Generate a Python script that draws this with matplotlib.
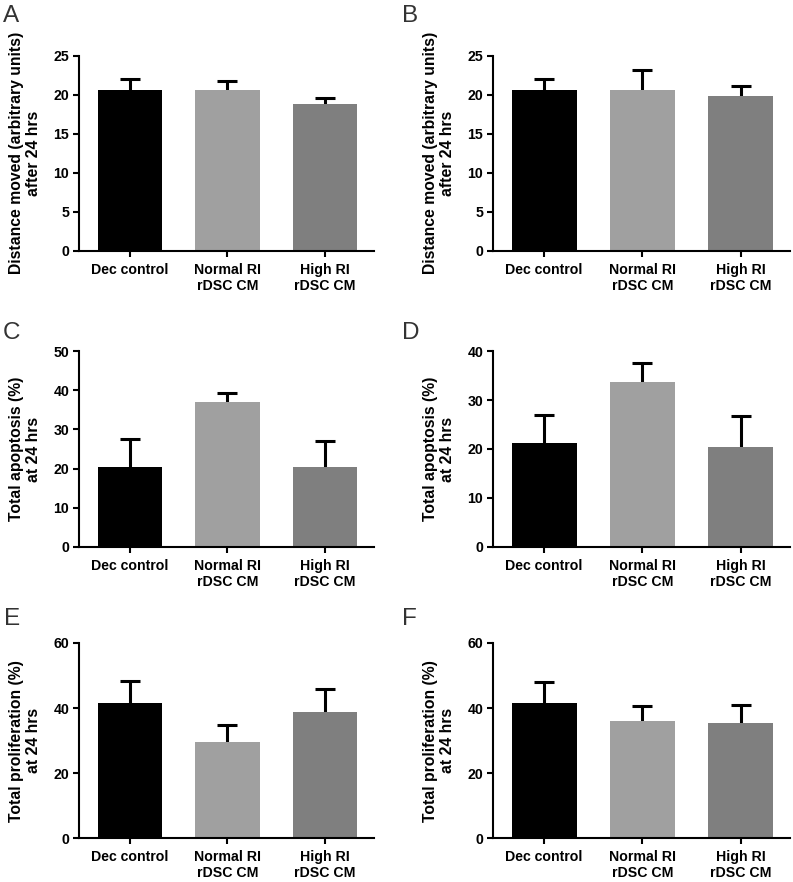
import matplotlib

matplotlib.use("Agg")

import matplotlib.pyplot as plt  # noqa: E402
import numpy as np  # noqa: E402

# --- data ---
GROUPS = ["Dec control", "Normal RI\nrDSC CM", "High RI\nrDSC CM"]
BAR_COLORS = ["#000000", "#a0a0a0", "#7f7f7f"]

A_MEAN = [20.6, 20.55, 18.8]
A_SEM = [1.45, 1.2, 0.8]
B_MEAN = [20.6, 20.6, 19.8]
B_SEM = [1.4, 2.6, 1.35]
C_MEAN = [20.5, 36.95, 20.3]
C_SEM = [7.1, 2.3, 6.65]
D_MEAN = [21.2, 33.8, 20.4]
D_SEM = [5.75, 3.9, 6.4]
E_MEAN = [41.7, 29.5, 38.8]
E_SEM = [6.6, 5.2, 7.1]
F_MEAN = [41.7, 36.1, 35.4]
F_SEM = [6.4, 4.5, 5.7]

YLABEL_DIST = "Distance moved (arbitrary units)\nafter 24 hrs"
YLABEL_APOP = "Total apoptosis (%)\nat 24 hrs"
YLABEL_PROL = "Total proliferation (%)\nat 24 hrs"

plt.rcParams.update(
    {
        "font.family": "sans-serif",
        "font.sans-serif": ["Liberation Sans", "Arial", "DejaVu Sans"],
        "font.size": 10.2,
        "font.weight": "bold",
    }
)

W, H = 793, 882
fig = plt.figure(figsize=(W / 100, H / 100), dpi=100)


def add_panel(left, right, top, bottom):
    return fig.add_axes([left / W, 1 - bottom / H, (right - left) / W, (bottom - top) / H])


def draw(ax, means, sems, ymax, step, ylabel):
    x = np.arange(len(GROUPS))
    ax.bar(x, means, 0.66, color=BAR_COLORS, edgecolor="none", zorder=2)
    _, caps, _ = ax.errorbar(
        x,
        means,
        yerr=[np.zeros(len(sems)), sems],
        fmt="none",
        ecolor="black",
        elinewidth=2.2,
        capsize=7,
        capthick=2.2,
        zorder=1,
    )
    caps[0].set_visible(False)  # only the upper cap
    ax.set_xlim(-0.52, 2.5)
    ax.set_ylim(0, ymax)
    ax.set_yticks(np.arange(0, ymax + 0.1, step))
    ax.set_xticks(x)
    ax.set_xticklabels(GROUPS, fontweight="bold")
    for lab in ax.get_yticklabels():
        lab.set_fontweight("bold")
    ax.spines["top"].set_visible(False)
    ax.spines["right"].set_visible(False)
    ax.spines["left"].set_linewidth(1.5)
    ax.spines["bottom"].set_linewidth(1.5)
    ax.tick_params(axis="y", length=4, width=1.5, pad=3)
    ax.tick_params(axis="x", length=4.5, width=1.5, pad=4)
    ax.set_ylabel(ylabel, fontweight="bold", fontsize=11.3, labelpad=9)


axA = add_panel(79, 374, 55.7, 251)
draw(axA, A_MEAN, A_SEM, 25, 5, YLABEL_DIST)
axB = add_panel(493, 790, 55.7, 251)
draw(axB, B_MEAN, B_SEM, 25, 5, YLABEL_DIST)
axC = add_panel(79, 374, 351.3, 546.7)
draw(axC, C_MEAN, C_SEM, 50, 10, YLABEL_APOP)
axD = add_panel(493, 790, 351.3, 546.7)
draw(axD, D_MEAN, D_SEM, 40, 10, YLABEL_APOP)
axE = add_panel(79, 374, 643, 838.3)
draw(axE, E_MEAN, E_SEM, 60, 20, YLABEL_PROL)
axF = add_panel(493, 790, 643, 838.3)
draw(axF, F_MEAN, F_SEM, 60, 20, YLABEL_PROL)

# panel letters
for letter, px, py in [("A", 3, 22), ("B", 402, 22), ("C", 3, 339),
                       ("D", 402, 339), ("E", 4, 625), ("F", 402, 625)]:
    fig.text(px / W, 1 - py / H, letter, fontsize=17.5, fontweight="normal",
             color="#333333", ha="left", va="baseline")

fig.savefig("out.png", dpi=100, facecolor="white")
